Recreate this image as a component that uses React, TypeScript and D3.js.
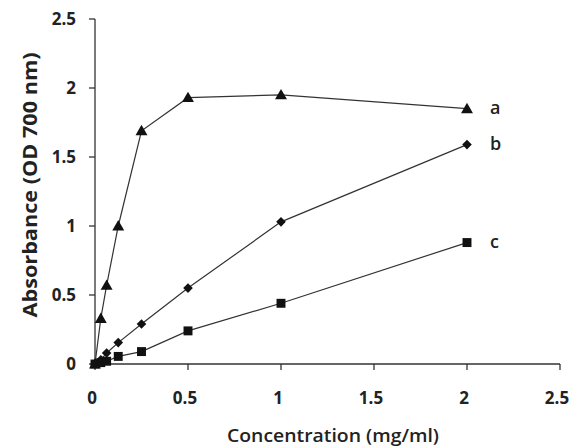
import React from 'react';
import * as d3 from 'd3';

// Concentration steps (mg/ml) and absorbance for the three samples
const concentrations = [0, 0.03125, 0.0625, 0.125, 0.25, 0.5, 1, 2];
const seriesA = [0, 0.33, 0.57, 1.0, 1.69, 1.93, 1.95, 1.85];
const seriesB = [0, 0.03, 0.08, 0.155, 0.29, 0.55, 1.03, 1.59];
const seriesC = [0, 0.01, 0.02, 0.055, 0.09, 0.24, 0.44, 0.88];
const seriesNames = ['a', 'b', 'c'];
const xTicks = [0, 0.5, 1, 1.5, 2, 2.5];
const yTicks = [0, 0.5, 1, 1.5, 2, 2.5];

const width = 584;
const height = 448;
const margin = { top: 19, right: 24, bottom: 84, left: 95 };
const font = "Open Sans, 'Noto Sans', sans-serif";
const ink = '#222';

const x = d3.scaleLinear().domain([0, 2.5]).range([margin.left, width - margin.right]);
const y = d3.scaleLinear().domain([0, 2.5]).range([height - margin.bottom, margin.top]);

type Shape = 'triangle' | 'diamond' | 'square';

const series: { name: string; values: number[]; shape: Shape }[] = [
  { name: seriesNames[0], values: seriesA, shape: 'triangle' },
  { name: seriesNames[1], values: seriesB, shape: 'diamond' },
  { name: seriesNames[2], values: seriesC, shape: 'square' },
];

// diamond = small square turned 45 degrees
const markerPath = (shape: Shape) => {
  if (shape === 'triangle') return d3.symbol(d3.symbolTriangle, 62)() || '';
  return d3.symbol(d3.symbolSquare, shape === 'diamond' ? 46 : 80)() || '';
};

export default function App() {
  const line = d3
    .line<number>()
    .x((_, i) => x(concentrations[i]))
    .y(d => y(d));

  const x0 = x(0);
  const y0 = y(0);

  return (
    <div style={{ position: 'fixed', left: 0, top: 0, width, height, background: '#fff' }}>
      <svg width={width} height={height} style={{ display: 'block' }}>
        {/* axes */}
        <g stroke="#333" strokeWidth={1.3} fill="none">
          <line x1={x0} x2={x0} y1={y(2.5)} y2={y0} />
          <line x1={x0} x2={x(2.5)} y1={y0} y2={y0} />
          {yTicks.map(t => (
            <line key={'yt' + t} x1={x0 - 6} x2={x0} y1={y(t)} y2={y(t)} />
          ))}
          {xTicks.map(t => (
            <line key={'xt' + t} x1={x(t)} x2={x(t)} y1={y0} y2={y0 + 6} />
          ))}
        </g>
        <g fontFamily={font} fontWeight={700} fontSize={17} fill={ink}>
          {yTicks.map(t => (
            <text key={'yl' + t} x={x0 - 19} y={y(t)} dy="0.36em" textAnchor="end">
              {t}
            </text>
          ))}
          {xTicks.map(t => (
            <text key={'xl' + t} x={x(t) - 3} y={y0 + 40} textAnchor="middle">
              {t}
            </text>
          ))}
        </g>
        <text
          x={333}
          y={442}
          textAnchor="middle"
          fontFamily={font}
          fontWeight={600}
          fontSize={18}
          textLength={212}
          lengthAdjust="spacingAndGlyphs"
          fill={ink}
        >
          Concentration (mg/ml)
        </text>
        <text
          transform={`translate(37,185) rotate(-90)`}
          textAnchor="middle"
          fontFamily={font}
          fontWeight={700}
          fontSize={19}
          textLength={265}
          lengthAdjust="spacingAndGlyphs"
          fill={ink}
        >
          Absorbance (OD 700 nm)
        </text>

        {/* series */}
        {series.map(s => (
          <g key={s.name}>
            <path d={line(s.values) || ''} fill="none" stroke="#333" strokeWidth={1.2} />
            {s.values.map((v, i) => (
              <path
                key={i}
                d={markerPath(s.shape)}
                transform={`translate(${x(concentrations[i])},${y(v) + (s.shape === 'triangle' ? 1 : 0)})${
                  s.shape === 'diamond' ? ' rotate(45)' : ''
                }`}
                fill="#111"
              />
            ))}
            <text
              x={x(concentrations[concentrations.length - 1]) + 23}
              y={y(s.values[s.values.length - 1])}
              dy="0.3em"
              fontFamily={font}
              fontWeight={600}
              fontSize={18}
              fill={ink}
            >
              {s.name}
            </text>
          </g>
        ))}
      </svg>
    </div>
  );
}
